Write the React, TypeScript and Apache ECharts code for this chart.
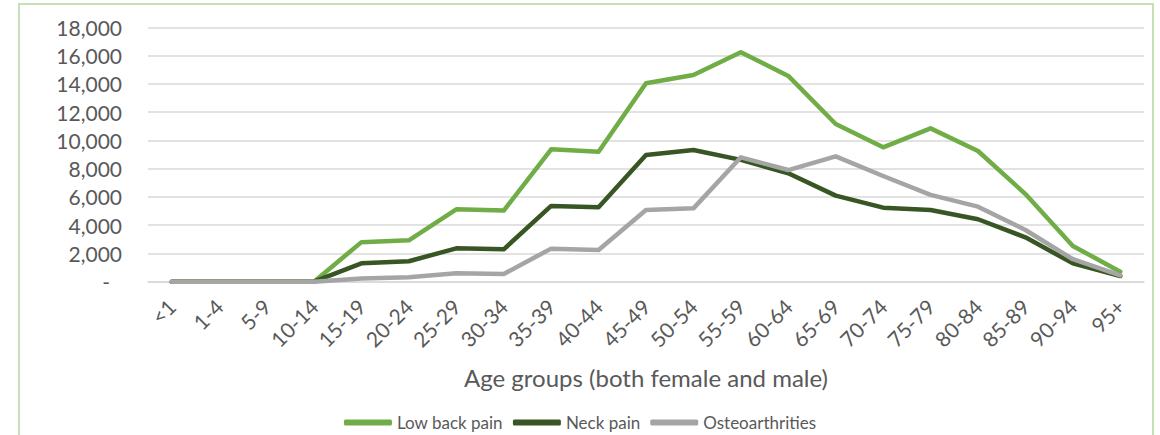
import React, { useEffect, useRef } from "react";
import * as echarts from "echarts";

const categories = ["<1", "1-4", "5-9", "10-14", "15-19", "20-24", "25-29", "30-34", "35-39", "40-44", "45-49", "50-54", "55-59", "60-64", "65-69", "70-74", "75-79", "80-84", "85-89", "90-94", "95+"];
const lowBackPain = [0, 0, 0, 0, 2800, 2930, 5120, 5030, 9370, 9200, 14040, 14630, 16240, 14560, 11160, 9510, 10850, 9250, 6200, 2530, 710];
const neckPain = [0, 0, 0, 0, 1300, 1450, 2360, 2290, 5360, 5270, 8970, 9320, 8620, 7670, 6090, 5240, 5070, 4420, 3140, 1300, 400];
const osteoarthrities = [0, 0, 0, 0, 230, 320, 590, 545, 2340, 2240, 5070, 5190, 8800, 7900, 8870, 7480, 6140, 5310, 3660, 1590, 450];
const yTicks = { min: 0, max: 18000, interval: 2000 };

const FONT = "Lato, 'Open Sans', sans-serif";
const TXT = "#595959";

export default function App() {
  const ref = useRef<HTMLDivElement>(null);
  useEffect(() => {
    if (!ref.current) return;
    const chart = echarts.init(ref.current, undefined, { renderer: "svg" });
    const mk = (name: string, data: number[], color: string) => ({
      name,
      type: "line",
      data,
      symbol: "none",
      showSymbol: false,
      smooth: false,
      lineStyle: { color, width: 4.5, cap: "round", join: "round" },
      itemStyle: { color },
    });
    chart.setOption({
      animation: false,
      backgroundColor: "#ffffff",
      textStyle: { fontFamily: FONT },
      graphic: [
        {
          type: "rect",
          shape: { x: 19, y: 4, width: 1134, height: 440 },
          style: { fill: "none", stroke: "#c5e0b4", lineWidth: 2 },
          silent: true,
        },
      ],
      grid: { left: 148, right: 16, top: 27.3, bottom: 153.3 },
      xAxis: {
        type: "category",
        data: categories,
        boundaryGap: true,
        axisLine: { show: true, lineStyle: { color: "#d9d9d9", width: 1.5 } },
        axisTick: { show: false },
        axisLabel: {
          rotate: 45,
          interval: 0,
          color: TXT,
          fontSize: 21,
          fontFamily: FONT,
          margin: 21,
        },
        name: "Age groups (both female and male)",
        nameLocation: "middle",
        nameGap: 84,
        nameTextStyle: { color: TXT, fontSize: 24, fontFamily: FONT },
      },
      yAxis: {
        type: "value",
        min: yTicks.min,
        max: yTicks.max,
        interval: yTicks.interval,
        axisLine: { show: false },
        axisTick: { show: false },
        splitLine: { lineStyle: { color: "#d9d9d9", width: 1.5 } },
        axisLabel: {
          color: TXT,
          fontSize: 21,
          fontFamily: FONT,
          margin: 26,
          formatter: (v: number) => (v === 0 ? "{dash|-}" : v.toLocaleString("en-US")),
          rich: { dash: { color: TXT, fontSize: 21, fontFamily: FONT, padding: [0, 12, 0, 0] } },
        },
      },
      legend: {
        top: 409,
        left: "center",
        itemWidth: 48,
        itemHeight: 6,
        itemGap: 10,
        icon: "roundRect",
        textStyle: { color: TXT, fontSize: 17, fontFamily: FONT },
        data: ["Low back pain", "Neck pain", "Osteoarthrities"],
      },
      series: [
        mk("Low back pain", lowBackPain, "#70ad47"),
        mk("Neck pain", neckPain, "#375623"),
        mk("Osteoarthrities", osteoarthrities, "#a5a5a5"),
      ],
    });
    return () => chart.dispose();
  }, []);
  return <div ref={ref} style={{ position: "fixed", left: 0, top: 0, width: 1160, height: 435 }} />;
}
